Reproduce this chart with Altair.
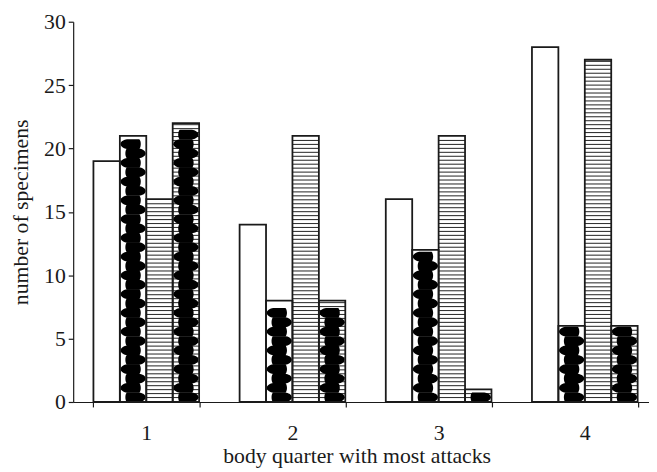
import altair as alt
import pandas as pd
import numpy as np

categories = ["1", "2", "3", "4"]
series = ["s1", "s2", "s3", "s4"]
s1 = [19, 14, 16, 28]
s2 = [21, 8, 12, 6]
s3 = [16, 21, 21, 27]
s4 = [22, 8, 1, 6]
y_ticks = [0, 5, 10, 15, 20, 25, 30]

rows = []
for name, vals in zip(series, [s1, s2, s3, s4]):
    for c, v in zip(categories, vals):
        rows.append({"cat": c, "series": name, "value": v})
df = pd.DataFrame(rows)

FONT = "Liberation Serif"
INK = "#1a1a1a"


def half_path(sign):
    """One half-period (one lobe) of the black 'snake' fill pattern, as a symbol path."""
    pr, pl = [], []
    n = 20
    for i in range(n + 1):
        t = i / n
        y = (-4.95 + 9.9 * t) / 13.5
        s = np.sin(np.pi * t) ** 0.6
        big = 6.2 + 6.6 * s
        small = 6.2 + 1.6 * s
        if sign > 0:
            pr.append((big / 13.5, y))
            pl.append((-small / 13.5, y))
        else:
            pr.append((small / 13.5, y))
            pl.append((-big / 13.5, y))
    pts = pr + pl[::-1]
    return "M" + " L".join(f"{x:.3f},{y:.3f}" for x, y in pts) + " Z"


pathR = half_path(1)
pathL = half_path(-1)

xscale = alt.Scale(domain=categories, range=[0, 592], paddingInner=0.277, paddingOuter=0.1385)
xoff_scale = alt.Scale(domain=series, paddingInner=0, paddingOuter=0)
yscale = alt.Scale(domain=[0, 30], nice=False)

xaxis = alt.Axis(
    title="body quarter with most attacks", labelAngle=0, tickBand="extent",
    tickSize=5, labelPadding=16, titleX=287, titleY=61, titleBaseline="alphabetic",
)
yaxis = alt.Axis(
    title="number of specimens", values=y_ticks, tickSize=5, labelPadding=3,
    titleX=-46, titleY=192.5, titleBaseline="alphabetic", titleAngle=270,
)

X = alt.X("cat:N", scale=xscale, axis=xaxis)
XO = alt.XOffset("series:N", scale=xoff_scale)


def Y(field):
    return alt.Y(field, type="quantitative", scale=yscale, axis=yaxis)


base = alt.Chart(df)

bars = base.mark_bar(color="white").encode(x=X, xOffset=XO, y=Y("value"))

stripes = (
    base.transform_filter(alt.FieldOneOfPredicate(field="series", oneOf=["s3", "s4"]))
    .transform_calculate(ys="sequence(0.31, datum.value - 0.1, 0.312)")
    .transform_flatten(["ys"])
    .transform_calculate(ys2="datum.ys + 0.085")
    .mark_bar(color="#333333")
    .encode(x=X, xOffset=XO, y=Y("ys"), y2="ys2:Q")
)

snakeR = (
    base.transform_filter(alt.FieldOneOfPredicate(field="series", oneOf=["s2", "s4"]))
    .transform_calculate(w="sequence(0.37, datum.value - 0.3, 1.48)")
    .transform_flatten(["w"])
    .mark_point(shape=pathR, filled=True, size=729, color="black", opacity=1, strokeWidth=0)
    .encode(x=X, xOffset=XO, y=Y("w"))
)

snakeL = (
    base.transform_filter(alt.FieldOneOfPredicate(field="series", oneOf=["s2", "s4"]))
    .transform_calculate(w="sequence(1.11, datum.value - 0.3, 1.48)")
    .transform_flatten(["w"])
    .mark_point(shape=pathL, filled=True, size=729, color="black", opacity=1, strokeWidth=0)
    .encode(x=X, xOffset=XO, y=Y("w"))
)

outline = base.mark_bar(fill="white", fillOpacity=0, stroke=INK, strokeWidth=1.8).encode(
    x=X, xOffset=XO, y=Y("value")
)

chart = (
    alt.layer(bars, stripes, snakeR, snakeL, outline)
    .properties(
        width=583, height=385, autosize="none",
        padding={"left": 66, "top": 11, "right": 0, "bottom": 70},
    )
    .configure_view(stroke=None)
    .configure_axis(
        domainColor=INK, tickColor=INK, domainWidth=1.2, tickWidth=1.2, grid=False,
        labelFont=FONT, labelFontSize=22, labelColor=INK,
        titleFont=FONT, titleFontSize=22, titleColor=INK, titleFontWeight="normal",
    )
)

chart.save("out.html", embed_options={"renderer": "svg", "actions": False})
